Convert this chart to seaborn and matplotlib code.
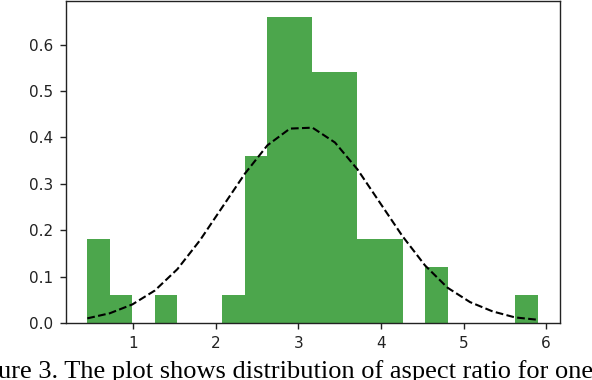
import numpy as np
import pandas as pd
import matplotlib
matplotlib.use("Agg")
import matplotlib.pyplot as plt
import seaborn as sns

# ---- data ----
bin_start = 0.443
bin_end = 5.897
n_bins = 20
# density height of each of the 20 histogram bins
bar_heights = [0.18, 0.06, 0.0, 0.06, 0.0, 0.0, 0.06, 0.36, 0.66, 0.66,
               0.54, 0.54, 0.18, 0.18, 0.0, 0.12, 0.0, 0.0, 0.0, 0.06]
# fitted normal curve, read at the 21 bin edges
curve_values = [0.010, 0.021, 0.040, 0.070, 0.116, 0.178, 0.250, 0.322, 0.383, 0.419,
                0.421, 0.389, 0.331, 0.259, 0.187, 0.124, 0.076, 0.045, 0.025, 0.012, 0.007]
x_ticks = [1, 2, 3, 4, 5, 6]
y_ticks = [0.0, 0.1, 0.2, 0.3, 0.4, 0.5, 0.6]
caption = "ure 3. The plot shows distribution of aspect ratio for one"

edges = np.linspace(bin_start, bin_end, n_bins + 1)
centers = (edges[:-1] + edges[1:]) / 2
hist_df = pd.DataFrame({"x": centers, "h": bar_heights})
curve_df = pd.DataFrame({"x": edges, "y": curve_values})

sns.set_style("ticks")
plt.rcParams["font.family"] = ["DejaVu Sans"]

W, H = 592, 380
fig = plt.figure(figsize=(W / 100, H / 100), dpi=100)
ax = fig.add_axes([66 / W, 1 - 323 / H, (560 - 66) / W, (323 - 1) / H])

sns.histplot(data=hist_df, x="x", weights="h", bins=list(edges), stat="count",
             color="green", alpha=0.7, linewidth=0, edgecolor="none", ax=ax)
sns.lineplot(data=curve_df, x="x", y="y", color="black", linestyle="--",
             linewidth=1.5, ax=ax)

ax.set_xlim(0.185, 6.168)
ax.set_ylim(0, 0.694)
ax.set_xticks(x_ticks)
ax.set_xticklabels([str(t) for t in x_ticks])
ax.set_yticks(y_ticks)
ax.set_yticklabels([f"{t:.1f}" for t in y_ticks])
ax.set_xlabel("")
ax.set_ylabel("")
ax.tick_params(labelsize=11, length=4.5, width=1, colors="#222222", pad=5)
for s in ax.spines.values():
    s.set_visible(True)
    s.set_linewidth(1.0)
    s.set_color("#222222")
ax.set_facecolor("white")

fig.text(-2 / W, 2 / H, caption, family=["Liberation Serif"], fontsize=19,
         ha="left", va="baseline", color="black")

fig.savefig("out.png", dpi=100, facecolor="white")
